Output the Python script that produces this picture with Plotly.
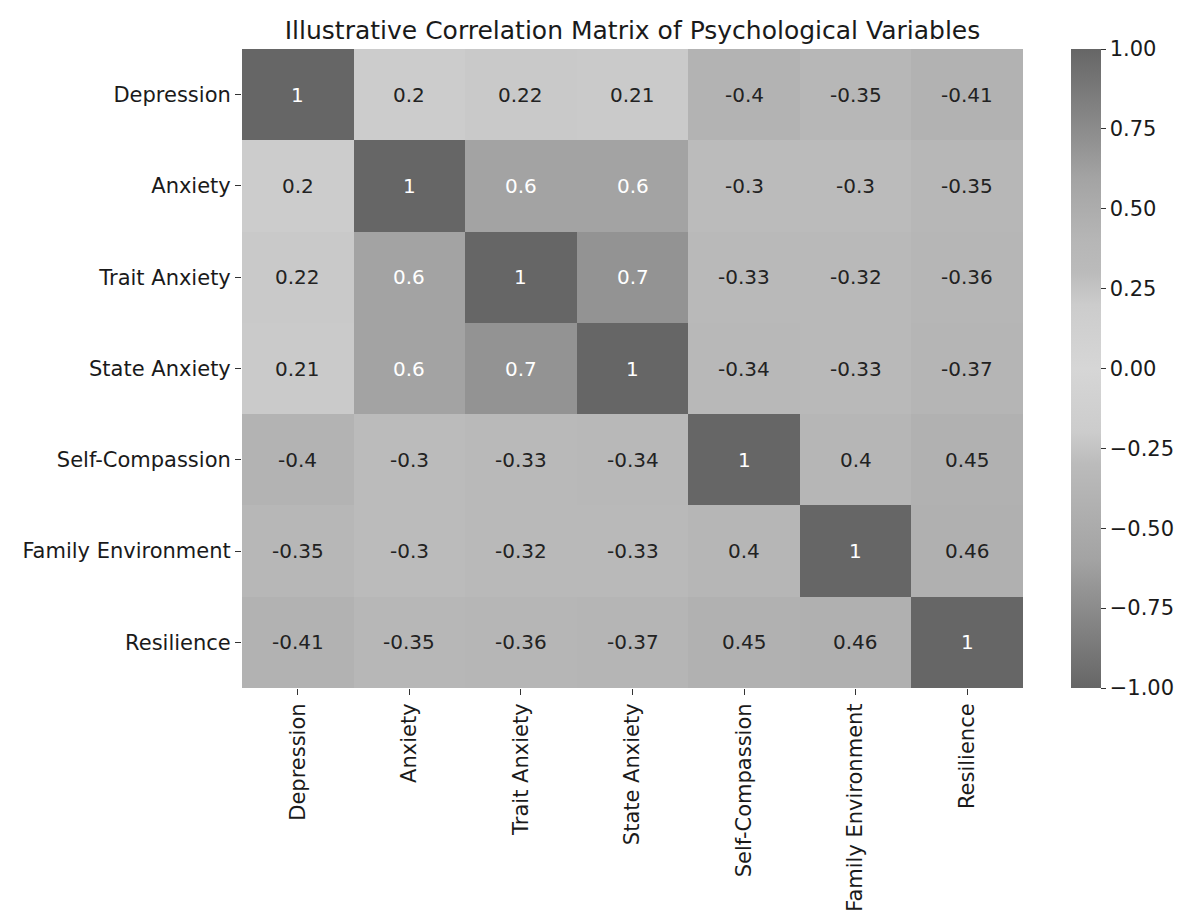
import plotly.graph_objects as go

labels = ["Depression", "Anxiety", "Trait Anxiety", "State Anxiety",
          "Self-Compassion", "Family Environment", "Resilience"]

row_depression = [1, 0.2, 0.22, 0.21, -0.4, -0.35, -0.41]
row_anxiety = [0.2, 1, 0.6, 0.6, -0.3, -0.3, -0.35]
row_trait = [0.22, 0.6, 1, 0.7, -0.33, -0.32, -0.36]
row_state = [0.21, 0.6, 0.7, 1, -0.34, -0.33, -0.37]
row_selfcomp = [-0.4, -0.3, -0.33, -0.34, 1, 0.4, 0.45]
row_family = [-0.35, -0.3, -0.32, -0.33, 0.4, 1, 0.46]
row_resilience = [-0.41, -0.35, -0.36, -0.37, 0.45, 0.46, 1]

z = [row_depression, row_anxiety, row_trait, row_state,
     row_selfcomp, row_family, row_resilience]

colorscale = [
    [0.00, "#666666"], [0.15, "#939393"], [0.20, "#a3a3a3"],
    [0.30, "#b3b3b3"], [0.35, "#bbbbbb"], [0.40, "#cccccc"],
    [0.50, "#d6d6d6"],
    [0.60, "#cccccc"], [0.65, "#bbbbbb"], [0.70, "#b6b6b6"],
    [0.80, "#a3a3a3"], [0.85, "#939393"], [1.00, "#666666"],
]

# Browser body has an 8px margin; offsets below compensate
OFF = 8
L, R_EDGE, T, B_EDGE = 242 - OFF, 1023 - OFF, 49 - OFF, 688 - OFF
W, H = 1186, 922
PW = R_EDGE - L

fig = go.Figure(go.Heatmap(
    z=z, x=labels, y=labels, zmin=-1, zmax=1,
    colorscale=colorscale,
    colorbar=dict(
        x=(1071 - OFF - L) / PW, xanchor="left", xpad=0,
        y=0, yanchor="bottom", ypad=0,
        lenmode="fraction", len=1, thickness=30,
        outlinewidth=0,
        tickvals=[-1, -0.75, -0.5, -0.25, 0, 0.25, 0.5, 0.75, 1],
        tickformat=".2f", ticks="outside", ticklen=5, tickcolor="#333",
        tickfont=dict(family="DejaVu Sans", size=21, color="#1a1a1a"),
    ),
))

for i, row in enumerate(z):
    for j, v in enumerate(row):
        txt = f"{v:g}"
        color = "white" if abs(v) >= 0.55 else "#222"
        fig.add_annotation(x=labels[j], y=labels[i], text=txt, showarrow=False,
                           font=dict(family="DejaVu Sans", size=20, color=color))

fig.update_layout(
    width=W, height=H,
    margin=dict(l=L, r=W - R_EDGE, t=T, b=H - B_EDGE),
    paper_bgcolor="white", plot_bgcolor="white",
    title=dict(text="Illustrative Correlation Matrix of Psychological Variables",
               x=(L + R_EDGE) / 2 / W, xanchor="center",
               y=1 - (30 - OFF) / H, yanchor="middle", yref="container",
               font=dict(family="DejaVu Sans", size=25, color="#1a1a1a")),
    xaxis=dict(tickangle=-90, ticks="outside", ticklen=6, tickcolor="#333",
               tickfont=dict(family="DejaVu Sans", size=21, color="#1a1a1a"),
               showgrid=False, zeroline=False, showline=False),
    yaxis=dict(autorange="reversed", ticks="outside", ticklen=6, tickcolor="#333",
               tickfont=dict(family="DejaVu Sans", size=21, color="#1a1a1a"),
               showgrid=False, zeroline=False, showline=False),
)

fig.write_html("out.html")
